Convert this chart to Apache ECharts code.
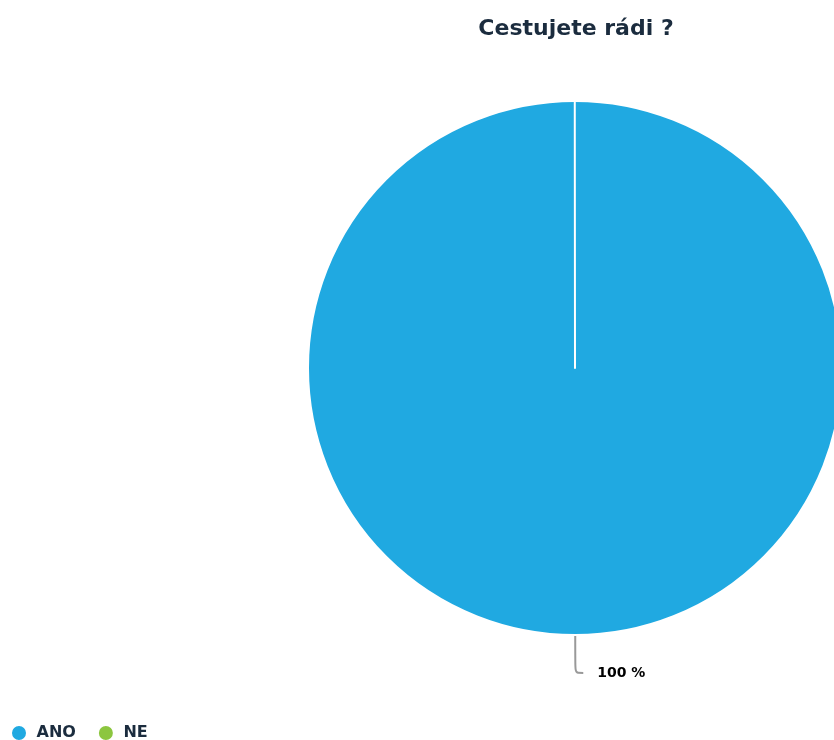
<!DOCTYPE html>
<html>
<head>
<meta charset="utf-8">
<script src="https://cdn.jsdelivr.net/npm/echarts@6/dist/echarts.min.js"></script>
<style>
  html, body { margin: 0; padding: 0; background: #fff; }
  #chart { width: 834px; height: 740px; }
</style>
</head>
<body>
<div id="chart"></div>
<script>
  var categories = ['ANO', 'NE'];
  var values = [100, 0];
  var colors = ['#20a9e1', '#8cc63f'];

  var pieData = categories.map(function (name, i) {
    var item = { name: name, value: values[i], itemStyle: { color: colors[i] } };
    if (values[i] === 0) {
      item.label = { show: false };
      item.labelLine = { show: false };
    }
    return item;
  });

  var chart = echarts.init(document.getElementById('chart'));

  var option = {
    animation: false,
    title: {
      text: 'Cestujete rádi ?',
      left: 571,
      top: 13,
      textAlign: 'center',
      textStyle: {
        fontFamily: 'DejaVu Sans',
        fontWeight: 'bold',
        fontSize: 22,
        color: '#1b2c3e'
      }
    },
    legend: {
      left: 5,
      top: 719,
      icon: 'circle',
      itemWidth: 25,
      itemHeight: 16,
      itemGap: 21,
      textStyle: {
        fontFamily: 'DejaVu Sans',
        fontWeight: 'bold',
        fontSize: 16,
        color: '#1b2c3e'
      },
      data: categories
    },
    series: [
      {
        type: 'pie',
        center: [575, 368],
        radius: 267,
        startAngle: 90.05,
        clockwise: true,
        stillShowZeroSum: true,
        itemStyle: {
          borderColor: '#fff',
          borderWidth: 2
        },
        label: {
          formatter: '{d} %',
          fontFamily: 'DejaVu Sans',
          fontWeight: 'bold',
          fontSize: 14,
          color: '#000',
          distanceToLabelLine: 14
        },
        labelLine: {
          length: 38,
          length2: 8,
          smooth: 0.3,
          lineStyle: { color: '#999', width: 2 }
        },
        data: pieData
      }
    ]
  };

  chart.setOption(option);
</script>
</body>
</html>
